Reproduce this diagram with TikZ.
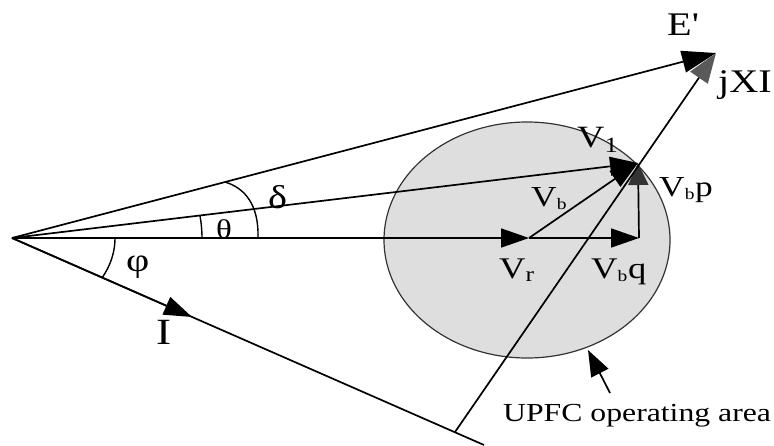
\documentclass[tikz,border=0pt]{standalone}
\usepackage{fontspec}
\setmainfont{Liberation Serif}
\usepackage{graphicx}
\usetikzlibrary{arrows.meta}
\newcommand{\wtxt}[1]{\scalebox{1.22}[1]{#1}}
\begin{document}
\begin{tikzpicture}[x=1pt,y=-1pt,
  ln/.style={line width=1.7pt},
  vec/.style={line width=1.7pt,-{Triangle[length=28pt,width=19pt]}},
  bvec/.style={line width=1.7pt,-{Triangle[length=34pt,width=22pt]}},
  gvec/.style={line width=1.7pt,-{Triangle[length=30pt,width=21pt,color=black!65]}},
  dvec/.style={line width=1.7pt,-{Triangle[length=22pt,width=20pt,color=black!80]}},
  lbl/.style={inner sep=0pt,anchor=base west},
  ang/.style={line width=1.4pt},
]
\useasboundingbox (0,0) rectangle (774,445);
% operating area
\fill[black!13] (527,240) ellipse [x radius=143pt, y radius=118pt];
\draw[line width=1.2pt,black!80] (527,240) ellipse [x radius=143pt, y radius=118pt];
% points
\coordinate (O) at (12,238);
\coordinate (R) at (529,238);
\coordinate (Q) at (639,238);
\coordinate (P) at (638,163);
\coordinate (T) at (716,53);
\coordinate (B) at (455,432);
\coordinate (Itip) at (192,317);
\coordinate (Iend) at (484,445);
\coordinate (Ptail) at (610,393);
\coordinate (Phead) at (588,350);
% vectors
\draw[ln] (O) -- (Iend);
\draw[vec] (O) -- (Itip);
\draw[vec] (O) -- (R);
\draw[vec] (R) -- (Q);
\draw[dvec] (Q) -- (P);
\draw[vec] (R) -- (P);
\draw[vec] (O) -- (P);
\draw[bvec] (O) -- (T);
\draw[gvec] (B) -- (T);
\draw[line width=1.7pt,-{Triangle[length=26pt,width=19pt]}] (Ptail) -- (Phead);
% angle marks
\draw[ang] plot[domain=0:28.7,samples=25] ({12+103*cos(\x)},{238+82*sin(\x)});
\draw[ang] plot[domain=0:8.4,samples=15] ({12+190*cos(\x)},{238-152*sin(\x)});
\draw[ang] (258,238) .. controls (259,205) and (245,188) .. (225,182);
% labels
\node[lbl,font=\fontsize{33}{33}\selectfont] (lE) at (667,35) {\wtxt{E\textquotesingle}};
\node[lbl,font=\fontsize{33}{33}\selectfont] (lX) at (718,92) {\wtxt{jXI}};
\node[lbl,font=\fontsize{31}{31}\selectfont] (l1) at (577,147) {\wtxt{V\textsubscript{1}}};
\node[lbl,font=\fontsize{29}{29}\selectfont] (lbp) at (659,196) {\wtxt{V\textsubscript{\fontsize{16}{16}\selectfont b}p}};
\node[lbl,font=\fontsize{29}{29}\selectfont] (lb) at (531,206) {\wtxt{V\textsubscript{\fontsize{16}{16}\selectfont b}}};
\node[lbl,font=\fontsize{30}{30}\selectfont] (lr) at (499,278) {\wtxt{V\textsubscript{r}}};
\node[lbl,font=\fontsize{30}{30}\selectfont] (lbq) at (591,278) {\wtxt{V\textsubscript{\fontsize{16}{16}\selectfont b}q}};
\node[lbl,font=\fontsize{27}{27}\selectfont] (lt) at (216,238) {\wtxt{θ}};
\node[lbl,font=\fontsize{33}{33}\selectfont] (ld) at (268,208) {\wtxt{δ}};
\node[lbl,font=\fontsize{33}{33}\selectfont] (lp) at (126,271) {\wtxt{φ}};
\node[lbl,font=\fontsize{37}{37}\selectfont] (lI) at (156,344) {\wtxt{I}};
\node[lbl,font=\fontsize{26}{26}\selectfont] (lU) at (503,421) {\wtxt{UPFC operating area}};
\end{tikzpicture}
\end{document}
